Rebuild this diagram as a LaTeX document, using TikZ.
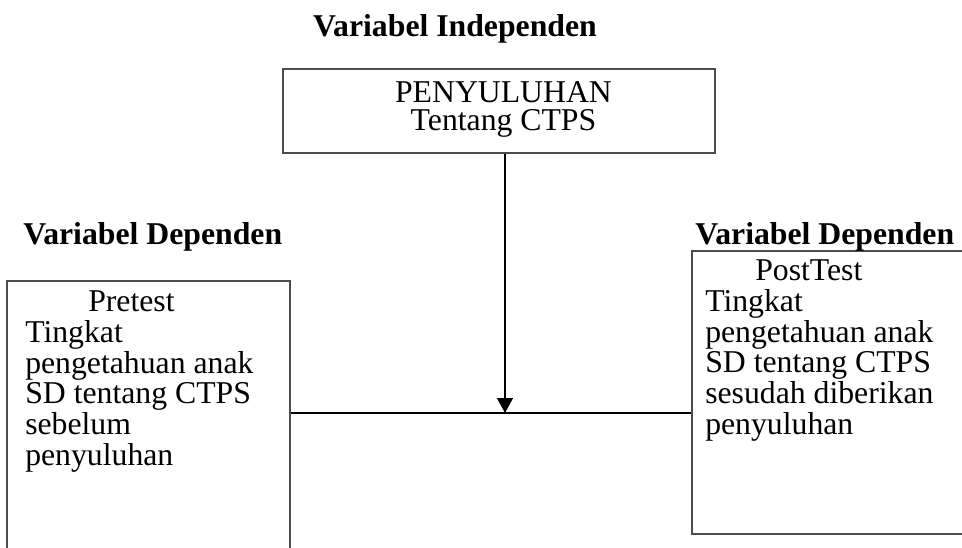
\documentclass[tikz,border=0pt]{standalone}
\usepackage{fontspec}
\setmainfont{Liberation Serif}
\usetikzlibrary{arrows.meta}
\tikzset{
  frame/.style={draw=black!70, line width=1.5pt, rectangle, inner sep=0pt},
  txt/.style={font=\fontsize{23.8pt}{28pt}\selectfont, inner sep=0pt, anchor=base west},
  ttl/.style={font=\fontsize{23.8pt}{28pt}\selectfont\bfseries, inner sep=0pt, anchor=base west},
  conn/.style={line width=1.5pt, black},
}
\begin{document}
\begin{tikzpicture}[x=0.75pt,y=-0.75pt]
\useasboundingbox (0,0) rectangle (962,548);
\clip (0,0) rectangle (962,548);
% boxes
\node[frame, minimum width=324pt, minimum height=62.5pt] (top) at (499,111) {};
\node[frame, minimum width=212.25pt, minimum height=213pt] (pre) at (148.5,423) {};
\node[frame, minimum width=216pt, minimum height=212.25pt] (post) at (836,392.5) {};
% titles
\node[ttl, anchor=base] (t1) at (455,37) {Variabel Independen};
\node[ttl] (t2) at (23,245) {Variabel Dependen};
\node[ttl] (t3) at (695,245) {Variabel Dependen};
% top box text
\node[txt, anchor=center, align=center, font=\fontsize{23.8pt}{21pt}\selectfont] (a1) at (503.5,109) {PENYULUHAN\\Tentang CTPS};
% left box text
\node[txt] (p0) at (88,312) {Pretest};
\foreach \t [count=\i from 1] in {Tingkat, pengetahuan anak, SD tentang CTPS, sebelum, penyuluhan}
  \node[txt] (p\i) at (25,{312+30.6*\i}) {\t};
% right box text
\node[txt] (q0) at (755,281) {PostTest};
\foreach \t [count=\i from 1] in {Tingkat, pengetahuan anak, SD tentang CTPS, sesudah diberikan, penyuluhan}
  \node[txt] (q\i) at (705,{281+30.6*\i}) {\t};
% connectors
\coordinate (j) at (505,413);
\draw[conn] (pre.east |- j) -- (post.west |- j);
\draw[conn, -{Triangle[width=11.8pt,length=11.2pt]}] (j |- top.south) -- (j);
\end{tikzpicture}
\end{document}
